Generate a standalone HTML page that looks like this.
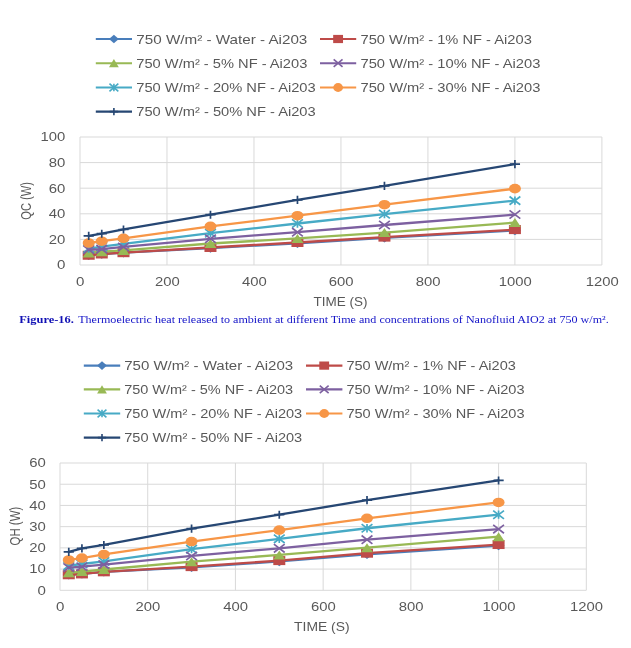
<!DOCTYPE html>
<html lang="en">
<head>
<meta charset="utf-8">
<title>Figure 16</title>
<style>
html,body{margin:0;padding:0;background:#fff;}
body{width:631px;height:648px;overflow:hidden;}
svg{display:block;font-family:"Liberation Sans", "DejaVu Sans", sans-serif;}
</style>
</head>
<body>
<svg width="631" height="648" viewBox="0 0 631 648">
<defs><filter id="soft" filterUnits="userSpaceOnUse" x="0" y="0" width="631" height="648"><feGaussianBlur stdDeviation="0.45"/></filter></defs>
<rect width="631" height="648" fill="#ffffff"/>
<g filter="url(#soft)">
<line x1="95.8" y1="39.0" x2="132.0" y2="39.0" stroke="#4a7ebb" stroke-width="2.1"/>
<polygon points="108.98,39.00 113.90,34.70 118.82,39.00 113.90,43.30" fill="#4a7ebb"/>
<text x="136.3" y="43.8" font-size="12.2" text-anchor="start" fill="#595959" textLength="171.0" lengthAdjust="spacingAndGlyphs">750 W/m² - Water - Ai203</text>
<line x1="95.8" y1="63.2" x2="132.0" y2="63.2" stroke="#98b954" stroke-width="2.1"/>
<polygon points="108.98,67.30 113.90,59.10 118.82,67.30" fill="#98b954"/>
<text x="136.3" y="68.0" font-size="12.2" text-anchor="start" fill="#595959" textLength="171.0" lengthAdjust="spacingAndGlyphs">750 W/m² - 5% NF - Ai203</text>
<line x1="95.8" y1="87.5" x2="132.0" y2="87.5" stroke="#46aac5" stroke-width="2.1"/>
<path d="M109.47 83.73L118.33 91.27M109.47 91.27L118.33 83.73M113.90 83.73L113.90 91.27" stroke="#46aac5" stroke-width="1.6" fill="none"/>
<text x="136.3" y="92.3" font-size="12.2" text-anchor="start" fill="#595959" textLength="179.4" lengthAdjust="spacingAndGlyphs">750 W/m² - 20% NF - Ai203</text>
<line x1="95.8" y1="111.6" x2="132.0" y2="111.6" stroke="#264673" stroke-width="2.1"/>
<path d="M109.72 111.60L118.08 111.60M113.90 107.91L113.90 115.29" stroke="#264673" stroke-width="1.6" fill="none"/>
<text x="136.3" y="116.4" font-size="12.2" text-anchor="start" fill="#595959" textLength="179.4" lengthAdjust="spacingAndGlyphs">750 W/m² - 50% NF - Ai203</text>
<line x1="320.0" y1="39.0" x2="356.2" y2="39.0" stroke="#be4b48" stroke-width="2.1"/>
<rect x="333.18" y="34.90" width="9.84" height="8.20" fill="#be4b48"/>
<text x="360.5" y="43.8" font-size="12.2" text-anchor="start" fill="#595959" textLength="171.3" lengthAdjust="spacingAndGlyphs">750 W/m² - 1% NF - Ai203</text>
<line x1="320.0" y1="63.2" x2="356.2" y2="63.2" stroke="#7d60a0" stroke-width="2.1"/>
<path d="M333.67 59.43L342.53 66.97M333.67 66.97L342.53 59.43" stroke="#7d60a0" stroke-width="1.6" fill="none"/>
<text x="360.5" y="68.0" font-size="12.2" text-anchor="start" fill="#595959" textLength="179.9" lengthAdjust="spacingAndGlyphs">750 W/m² - 10% NF - Ai203</text>
<line x1="320.0" y1="87.5" x2="356.2" y2="87.5" stroke="#f79646" stroke-width="2.1"/>
<ellipse cx="338.10" cy="87.50" rx="4.92" ry="4.40" fill="#f79646"/>
<text x="360.5" y="92.3" font-size="12.2" text-anchor="start" fill="#595959" textLength="179.9" lengthAdjust="spacingAndGlyphs">750 W/m² - 30% NF - Ai203</text>
<line x1="80.00" y1="265.00" x2="601.90" y2="265.00" stroke="#d9d9d9" stroke-width="1"/>
<text x="65.3" y="269.4" font-size="12.2" text-anchor="end" fill="#595959" textLength="8.4" lengthAdjust="spacingAndGlyphs">0</text>
<line x1="80.00" y1="239.40" x2="601.90" y2="239.40" stroke="#d9d9d9" stroke-width="1"/>
<text x="65.3" y="243.8" font-size="12.2" text-anchor="end" fill="#595959" textLength="16.6" lengthAdjust="spacingAndGlyphs">20</text>
<line x1="80.00" y1="213.80" x2="601.90" y2="213.80" stroke="#d9d9d9" stroke-width="1"/>
<text x="65.3" y="218.2" font-size="12.2" text-anchor="end" fill="#595959" textLength="16.6" lengthAdjust="spacingAndGlyphs">40</text>
<line x1="80.00" y1="188.20" x2="601.90" y2="188.20" stroke="#d9d9d9" stroke-width="1"/>
<text x="65.3" y="192.6" font-size="12.2" text-anchor="end" fill="#595959" textLength="16.6" lengthAdjust="spacingAndGlyphs">60</text>
<line x1="80.00" y1="162.60" x2="601.90" y2="162.60" stroke="#d9d9d9" stroke-width="1"/>
<text x="65.3" y="167.0" font-size="12.2" text-anchor="end" fill="#595959" textLength="16.6" lengthAdjust="spacingAndGlyphs">80</text>
<line x1="80.00" y1="137.00" x2="601.90" y2="137.00" stroke="#d9d9d9" stroke-width="1"/>
<text x="65.3" y="141.4" font-size="12.2" text-anchor="end" fill="#595959" textLength="24.8" lengthAdjust="spacingAndGlyphs">100</text>
<line x1="80.00" y1="137.00" x2="80.00" y2="265.00" stroke="#d9d9d9" stroke-width="1"/>
<text x="80.3" y="286.2" font-size="12.2" text-anchor="middle" fill="#595959" textLength="8.4" lengthAdjust="spacingAndGlyphs">0</text>
<line x1="166.98" y1="137.00" x2="166.98" y2="265.00" stroke="#d9d9d9" stroke-width="1"/>
<text x="167.3" y="286.2" font-size="12.2" text-anchor="middle" fill="#595959" textLength="24.8" lengthAdjust="spacingAndGlyphs">200</text>
<line x1="253.97" y1="137.00" x2="253.97" y2="265.00" stroke="#d9d9d9" stroke-width="1"/>
<text x="254.3" y="286.2" font-size="12.2" text-anchor="middle" fill="#595959" textLength="24.8" lengthAdjust="spacingAndGlyphs">400</text>
<line x1="340.95" y1="137.00" x2="340.95" y2="265.00" stroke="#d9d9d9" stroke-width="1"/>
<text x="341.2" y="286.2" font-size="12.2" text-anchor="middle" fill="#595959" textLength="24.8" lengthAdjust="spacingAndGlyphs">600</text>
<line x1="427.93" y1="137.00" x2="427.93" y2="265.00" stroke="#d9d9d9" stroke-width="1"/>
<text x="428.2" y="286.2" font-size="12.2" text-anchor="middle" fill="#595959" textLength="24.8" lengthAdjust="spacingAndGlyphs">800</text>
<line x1="514.92" y1="137.00" x2="514.92" y2="265.00" stroke="#d9d9d9" stroke-width="1"/>
<text x="515.2" y="286.2" font-size="12.2" text-anchor="middle" fill="#595959" textLength="33.0" lengthAdjust="spacingAndGlyphs">1000</text>
<line x1="601.90" y1="137.00" x2="601.90" y2="265.00" stroke="#d9d9d9" stroke-width="1"/>
<text x="602.2" y="286.2" font-size="12.2" text-anchor="middle" fill="#595959" textLength="33.0" lengthAdjust="spacingAndGlyphs">1200</text>
<text x="340.5" y="305.6" font-size="12.2" text-anchor="middle" fill="#595959" textLength="54.0" lengthAdjust="spacingAndGlyphs">TIME (S)</text>
<text transform="translate(30.5,200.9) rotate(-90)" font-size="15" text-anchor="middle" fill="#595959" textLength="37.8" lengthAdjust="spacingAndGlyphs">QC (W)</text>
<polyline points="88.70,255.26 101.75,253.98 123.49,252.70 210.47,248.12 297.46,243.27 384.44,237.90 514.92,230.50" fill="none" stroke="#4a7ebb" stroke-width="2.3" stroke-linejoin="round" stroke-linecap="round"/>
<polygon points="82.70,255.26 88.70,250.56 94.70,255.26 88.70,259.96" fill="#4a7ebb"/>
<polygon points="95.75,253.98 101.75,249.28 107.75,253.98 101.75,258.68" fill="#4a7ebb"/>
<polygon points="117.49,252.70 123.49,248.00 129.49,252.70 123.49,257.40" fill="#4a7ebb"/>
<polygon points="204.47,248.12 210.47,243.42 216.47,248.12 210.47,252.82" fill="#4a7ebb"/>
<polygon points="291.46,243.27 297.46,238.57 303.46,243.27 297.46,247.97" fill="#4a7ebb"/>
<polygon points="378.44,237.90 384.44,233.20 390.44,237.90 384.44,242.60" fill="#4a7ebb"/>
<polygon points="508.92,230.50 514.92,225.80 520.92,230.50 514.92,235.20" fill="#4a7ebb"/>
<polyline points="88.70,255.26 101.75,253.98 123.49,252.70 210.47,247.48 297.46,242.50 384.44,237.13 514.92,229.61" fill="none" stroke="#be4b48" stroke-width="2.3" stroke-linejoin="round" stroke-linecap="round"/>
<rect x="82.70" y="250.76" width="12.00" height="9.00" fill="#be4b48"/>
<rect x="95.75" y="249.48" width="12.00" height="9.00" fill="#be4b48"/>
<rect x="117.49" y="248.20" width="12.00" height="9.00" fill="#be4b48"/>
<rect x="204.47" y="242.98" width="12.00" height="9.00" fill="#be4b48"/>
<rect x="291.46" y="238.00" width="12.00" height="9.00" fill="#be4b48"/>
<rect x="378.44" y="232.63" width="12.00" height="9.00" fill="#be4b48"/>
<rect x="508.92" y="225.11" width="12.00" height="9.00" fill="#be4b48"/>
<polyline points="88.70,252.89 101.75,251.69 123.49,250.41 210.47,243.52 297.46,238.41 384.44,232.54 514.92,222.59" fill="none" stroke="#98b954" stroke-width="2.3" stroke-linejoin="round" stroke-linecap="round"/>
<polygon points="82.70,257.39 88.70,248.39 94.70,257.39" fill="#98b954"/>
<polygon points="95.75,256.19 101.75,247.19 107.75,256.19" fill="#98b954"/>
<polygon points="117.49,254.91 123.49,245.91 129.49,254.91" fill="#98b954"/>
<polygon points="204.47,248.02 210.47,239.02 216.47,248.02" fill="#98b954"/>
<polygon points="291.46,242.91 297.46,233.91 303.46,242.91" fill="#98b954"/>
<polygon points="378.44,237.04 384.44,228.04 390.44,237.04" fill="#98b954"/>
<polygon points="508.92,227.09 514.92,218.09 520.92,227.09" fill="#98b954"/>
<polyline points="88.70,248.63 101.75,246.58 123.49,243.78 210.47,233.18 297.46,223.49 384.44,214.17 514.92,200.64" fill="none" stroke="#46aac5" stroke-width="2.3" stroke-linejoin="round" stroke-linecap="round"/>
<path d="M83.30 244.49L94.10 252.77M83.30 252.77L94.10 244.49M88.70 244.49L88.70 252.77" stroke="#46aac5" stroke-width="1.7" fill="none"/>
<path d="M96.35 242.44L107.15 250.72M96.35 250.72L107.15 242.44M101.75 242.44L101.75 250.72" stroke="#46aac5" stroke-width="1.7" fill="none"/>
<path d="M118.09 239.64L128.89 247.92M118.09 247.92L128.89 239.64M123.49 239.64L123.49 247.92" stroke="#46aac5" stroke-width="1.7" fill="none"/>
<path d="M205.07 229.04L215.88 237.32M205.07 237.32L215.88 229.04M210.47 229.04L210.47 237.32" stroke="#46aac5" stroke-width="1.7" fill="none"/>
<path d="M292.06 219.35L302.86 227.63M292.06 227.63L302.86 219.35M297.46 219.35L297.46 227.63" stroke="#46aac5" stroke-width="1.7" fill="none"/>
<path d="M379.04 210.03L389.84 218.31M379.04 218.31L389.84 210.03M384.44 210.03L384.44 218.31" stroke="#46aac5" stroke-width="1.7" fill="none"/>
<path d="M509.52 196.50L520.32 204.78M509.52 204.78L520.32 196.50M514.92 196.50L514.92 204.78" stroke="#46aac5" stroke-width="1.7" fill="none"/>
<polyline points="88.70,249.77 101.75,249.13 123.49,246.96 210.47,238.80 297.46,232.17 384.44,225.01 514.92,214.56" fill="none" stroke="#7d60a0" stroke-width="2.3" stroke-linejoin="round" stroke-linecap="round"/>
<path d="M83.30 245.63L94.10 253.91M83.30 253.91L94.10 245.63" stroke="#7d60a0" stroke-width="1.7" fill="none"/>
<path d="M96.35 244.99L107.15 253.27M96.35 253.27L107.15 244.99" stroke="#7d60a0" stroke-width="1.7" fill="none"/>
<path d="M118.09 242.82L128.89 251.10M118.09 251.10L128.89 242.82" stroke="#7d60a0" stroke-width="1.7" fill="none"/>
<path d="M205.07 234.66L215.88 242.94M205.07 242.94L215.88 234.66" stroke="#7d60a0" stroke-width="1.7" fill="none"/>
<path d="M292.06 228.03L302.86 236.31M292.06 236.31L302.86 228.03" stroke="#7d60a0" stroke-width="1.7" fill="none"/>
<path d="M379.04 220.87L389.84 229.15M379.04 229.15L389.84 220.87" stroke="#7d60a0" stroke-width="1.7" fill="none"/>
<path d="M509.52 210.42L520.32 218.70M509.52 218.70L520.32 210.42" stroke="#7d60a0" stroke-width="1.7" fill="none"/>
<polyline points="88.70,243.01 101.75,241.22 123.49,238.29 210.47,226.42 297.46,215.71 384.44,204.72 514.92,188.65" fill="none" stroke="#f79646" stroke-width="2.3" stroke-linejoin="round" stroke-linecap="round"/>
<ellipse cx="88.70" cy="243.01" rx="6.00" ry="4.80" fill="#f79646"/>
<ellipse cx="101.75" cy="241.22" rx="6.00" ry="4.80" fill="#f79646"/>
<ellipse cx="123.49" cy="238.29" rx="6.00" ry="4.80" fill="#f79646"/>
<ellipse cx="210.47" cy="226.42" rx="6.00" ry="4.80" fill="#f79646"/>
<ellipse cx="297.46" cy="215.71" rx="6.00" ry="4.80" fill="#f79646"/>
<ellipse cx="384.44" cy="204.72" rx="6.00" ry="4.80" fill="#f79646"/>
<ellipse cx="514.92" cy="188.65" rx="6.00" ry="4.80" fill="#f79646"/>
<polyline points="88.70,235.87 101.75,233.69 123.49,229.48 210.47,214.68 297.46,199.87 384.44,185.84 514.92,164.15" fill="none" stroke="#264673" stroke-width="2.3" stroke-linejoin="round" stroke-linecap="round"/>
<path d="M83.60 235.87L93.80 235.87M88.70 231.82L88.70 239.92" stroke="#264673" stroke-width="1.7" fill="none"/>
<path d="M96.65 233.69L106.85 233.69M101.75 229.64L101.75 237.74" stroke="#264673" stroke-width="1.7" fill="none"/>
<path d="M118.39 229.48L128.59 229.48M123.49 225.43L123.49 233.53" stroke="#264673" stroke-width="1.7" fill="none"/>
<path d="M205.38 214.68L215.57 214.68M210.47 210.63L210.47 218.73" stroke="#264673" stroke-width="1.7" fill="none"/>
<path d="M292.36 199.87L302.56 199.87M297.46 195.82L297.46 203.92" stroke="#264673" stroke-width="1.7" fill="none"/>
<path d="M379.34 185.84L389.54 185.84M384.44 181.79L384.44 189.89" stroke="#264673" stroke-width="1.7" fill="none"/>
<path d="M509.82 164.15L520.02 164.15M514.92 160.10L514.92 168.20" stroke="#264673" stroke-width="1.7" fill="none"/>
<line x1="83.8" y1="365.6" x2="120.2" y2="365.6" stroke="#4a7ebb" stroke-width="2.1"/>
<polygon points="97.08,365.60 102.00,361.30 106.92,365.60 102.00,369.90" fill="#4a7ebb"/>
<text x="124.2" y="370.4" font-size="12.0" text-anchor="start" fill="#595959" textLength="169.0" lengthAdjust="spacingAndGlyphs">750 W/m² - Water - Ai203</text>
<line x1="83.8" y1="389.4" x2="120.2" y2="389.4" stroke="#98b954" stroke-width="2.1"/>
<polygon points="97.08,393.50 102.00,385.30 106.92,393.50" fill="#98b954"/>
<text x="124.2" y="394.2" font-size="12.0" text-anchor="start" fill="#595959" textLength="169.0" lengthAdjust="spacingAndGlyphs">750 W/m² - 5% NF - Ai203</text>
<line x1="83.8" y1="413.5" x2="120.2" y2="413.5" stroke="#46aac5" stroke-width="2.1"/>
<path d="M97.57 409.73L106.43 417.27M97.57 417.27L106.43 409.73M102.00 409.73L102.00 417.27" stroke="#46aac5" stroke-width="1.6" fill="none"/>
<text x="124.2" y="418.3" font-size="12.0" text-anchor="start" fill="#595959" textLength="178.0" lengthAdjust="spacingAndGlyphs">750 W/m² - 20% NF - Ai203</text>
<line x1="83.8" y1="437.6" x2="120.2" y2="437.6" stroke="#264673" stroke-width="2.1"/>
<path d="M97.82 437.60L106.18 437.60M102.00 433.91L102.00 441.29" stroke="#264673" stroke-width="1.6" fill="none"/>
<text x="124.2" y="442.4" font-size="12.0" text-anchor="start" fill="#595959" textLength="178.0" lengthAdjust="spacingAndGlyphs">750 W/m² - 50% NF - Ai203</text>
<line x1="306.0" y1="365.6" x2="342.4" y2="365.6" stroke="#be4b48" stroke-width="2.1"/>
<rect x="319.28" y="361.50" width="9.84" height="8.20" fill="#be4b48"/>
<text x="346.4" y="370.4" font-size="12.0" text-anchor="start" fill="#595959" textLength="169.4" lengthAdjust="spacingAndGlyphs">750 W/m² - 1% NF - Ai203</text>
<line x1="306.0" y1="389.4" x2="342.4" y2="389.4" stroke="#7d60a0" stroke-width="2.1"/>
<path d="M319.77 385.63L328.63 393.17M319.77 393.17L328.63 385.63" stroke="#7d60a0" stroke-width="1.6" fill="none"/>
<text x="346.4" y="394.2" font-size="12.0" text-anchor="start" fill="#595959" textLength="178.1" lengthAdjust="spacingAndGlyphs">750 W/m² - 10% NF - Ai203</text>
<line x1="306.0" y1="413.5" x2="342.4" y2="413.5" stroke="#f79646" stroke-width="2.1"/>
<ellipse cx="324.20" cy="413.50" rx="4.92" ry="4.40" fill="#f79646"/>
<text x="346.4" y="418.3" font-size="12.0" text-anchor="start" fill="#595959" textLength="178.1" lengthAdjust="spacingAndGlyphs">750 W/m² - 30% NF - Ai203</text>
<line x1="60.00" y1="590.30" x2="586.30" y2="590.30" stroke="#d9d9d9" stroke-width="1"/>
<text x="45.9" y="594.6" font-size="12.0" text-anchor="end" fill="#595959" textLength="8.4" lengthAdjust="spacingAndGlyphs">0</text>
<line x1="60.00" y1="569.08" x2="586.30" y2="569.08" stroke="#d9d9d9" stroke-width="1"/>
<text x="45.9" y="573.4" font-size="12.0" text-anchor="end" fill="#595959" textLength="16.6" lengthAdjust="spacingAndGlyphs">10</text>
<line x1="60.00" y1="547.87" x2="586.30" y2="547.87" stroke="#d9d9d9" stroke-width="1"/>
<text x="45.9" y="552.2" font-size="12.0" text-anchor="end" fill="#595959" textLength="16.6" lengthAdjust="spacingAndGlyphs">20</text>
<line x1="60.00" y1="526.65" x2="586.30" y2="526.65" stroke="#d9d9d9" stroke-width="1"/>
<text x="45.9" y="531.0" font-size="12.0" text-anchor="end" fill="#595959" textLength="16.6" lengthAdjust="spacingAndGlyphs">30</text>
<line x1="60.00" y1="505.43" x2="586.30" y2="505.43" stroke="#d9d9d9" stroke-width="1"/>
<text x="45.9" y="509.8" font-size="12.0" text-anchor="end" fill="#595959" textLength="16.6" lengthAdjust="spacingAndGlyphs">40</text>
<line x1="60.00" y1="484.22" x2="586.30" y2="484.22" stroke="#d9d9d9" stroke-width="1"/>
<text x="45.9" y="488.5" font-size="12.0" text-anchor="end" fill="#595959" textLength="16.6" lengthAdjust="spacingAndGlyphs">50</text>
<line x1="60.00" y1="463.00" x2="586.30" y2="463.00" stroke="#d9d9d9" stroke-width="1"/>
<text x="45.9" y="467.3" font-size="12.0" text-anchor="end" fill="#595959" textLength="16.6" lengthAdjust="spacingAndGlyphs">60</text>
<line x1="60.00" y1="463.00" x2="60.00" y2="590.30" stroke="#d9d9d9" stroke-width="1"/>
<text x="60.3" y="610.8" font-size="12.0" text-anchor="middle" fill="#595959" textLength="8.4" lengthAdjust="spacingAndGlyphs">0</text>
<line x1="147.72" y1="463.00" x2="147.72" y2="590.30" stroke="#d9d9d9" stroke-width="1"/>
<text x="148.0" y="610.8" font-size="12.0" text-anchor="middle" fill="#595959" textLength="24.8" lengthAdjust="spacingAndGlyphs">200</text>
<line x1="235.43" y1="463.00" x2="235.43" y2="590.30" stroke="#d9d9d9" stroke-width="1"/>
<text x="235.7" y="610.8" font-size="12.0" text-anchor="middle" fill="#595959" textLength="24.8" lengthAdjust="spacingAndGlyphs">400</text>
<line x1="323.15" y1="463.00" x2="323.15" y2="590.30" stroke="#d9d9d9" stroke-width="1"/>
<text x="323.4" y="610.8" font-size="12.0" text-anchor="middle" fill="#595959" textLength="24.8" lengthAdjust="spacingAndGlyphs">600</text>
<line x1="410.87" y1="463.00" x2="410.87" y2="590.30" stroke="#d9d9d9" stroke-width="1"/>
<text x="411.2" y="610.8" font-size="12.0" text-anchor="middle" fill="#595959" textLength="24.8" lengthAdjust="spacingAndGlyphs">800</text>
<line x1="498.58" y1="463.00" x2="498.58" y2="590.30" stroke="#d9d9d9" stroke-width="1"/>
<text x="498.9" y="610.8" font-size="12.0" text-anchor="middle" fill="#595959" textLength="33.0" lengthAdjust="spacingAndGlyphs">1000</text>
<line x1="586.30" y1="463.00" x2="586.30" y2="590.30" stroke="#d9d9d9" stroke-width="1"/>
<text x="586.6" y="610.8" font-size="12.0" text-anchor="middle" fill="#595959" textLength="33.0" lengthAdjust="spacingAndGlyphs">1200</text>
<text x="321.8" y="631.0" font-size="12.0" text-anchor="middle" fill="#595959" textLength="55.5" lengthAdjust="spacingAndGlyphs">TIME (S)</text>
<text transform="translate(19.5,526.1) rotate(-90)" font-size="15" text-anchor="middle" fill="#595959" textLength="38.8" lengthAdjust="spacingAndGlyphs">QH (W)</text>
<polyline points="68.77,574.77 81.93,573.92 103.86,571.82 191.57,567.36 279.29,561.45 367.01,554.25 498.58,545.58" fill="none" stroke="#4a7ebb" stroke-width="2.3" stroke-linejoin="round" stroke-linecap="round"/>
<polygon points="62.77,574.77 68.77,570.07 74.77,574.77 68.77,579.47" fill="#4a7ebb"/>
<polygon points="75.93,573.92 81.93,569.22 87.93,573.92 81.93,578.62" fill="#4a7ebb"/>
<polygon points="97.86,571.82 103.86,567.12 109.86,571.82 103.86,576.52" fill="#4a7ebb"/>
<polygon points="185.57,567.36 191.57,562.66 197.57,567.36 191.57,572.06" fill="#4a7ebb"/>
<polygon points="273.29,561.45 279.29,556.75 285.29,561.45 279.29,566.15" fill="#4a7ebb"/>
<polygon points="361.01,554.25 367.01,549.55 373.01,554.25 367.01,558.95" fill="#4a7ebb"/>
<polygon points="492.58,545.58 498.58,540.88 504.58,545.58 498.58,550.28" fill="#4a7ebb"/>
<polyline points="68.77,574.77 81.93,573.92 103.86,571.82 191.57,566.62 279.29,560.60 367.01,553.19 498.58,544.54" fill="none" stroke="#be4b48" stroke-width="2.3" stroke-linejoin="round" stroke-linecap="round"/>
<rect x="62.77" y="570.27" width="12.00" height="9.00" fill="#be4b48"/>
<rect x="75.93" y="569.42" width="12.00" height="9.00" fill="#be4b48"/>
<rect x="97.86" y="567.32" width="12.00" height="9.00" fill="#be4b48"/>
<rect x="185.57" y="562.12" width="12.00" height="9.00" fill="#be4b48"/>
<rect x="273.29" y="556.10" width="12.00" height="9.00" fill="#be4b48"/>
<rect x="361.01" y="548.69" width="12.00" height="9.00" fill="#be4b48"/>
<rect x="492.58" y="540.04" width="12.00" height="9.00" fill="#be4b48"/>
<polyline points="68.77,572.86 81.93,571.61 103.86,569.49 191.57,561.66 279.29,554.89 367.01,547.70 498.58,536.71" fill="none" stroke="#98b954" stroke-width="2.3" stroke-linejoin="round" stroke-linecap="round"/>
<polygon points="62.77,577.36 68.77,568.36 74.77,577.36" fill="#98b954"/>
<polygon points="75.93,576.11 81.93,567.11 87.93,576.11" fill="#98b954"/>
<polygon points="97.86,573.99 103.86,564.99 109.86,573.99" fill="#98b954"/>
<polygon points="185.57,566.16 191.57,557.16 197.57,566.16" fill="#98b954"/>
<polygon points="273.29,559.39 279.29,550.39 285.29,559.39" fill="#98b954"/>
<polygon points="361.01,552.20 367.01,543.20 373.01,552.20" fill="#98b954"/>
<polygon points="492.58,541.21 498.58,532.21 504.58,541.21" fill="#98b954"/>
<polyline points="68.77,565.67 81.93,563.99 103.86,561.45 191.57,549.18 279.29,538.83 367.01,528.24 498.58,514.71" fill="none" stroke="#46aac5" stroke-width="2.3" stroke-linejoin="round" stroke-linecap="round"/>
<path d="M63.37 561.53L74.17 569.81M63.37 569.81L74.17 561.53M68.77 561.53L68.77 569.81" stroke="#46aac5" stroke-width="1.7" fill="none"/>
<path d="M76.53 559.85L87.33 568.13M76.53 568.13L87.33 559.85M81.93 559.85L81.93 568.13" stroke="#46aac5" stroke-width="1.7" fill="none"/>
<path d="M98.46 557.31L109.26 565.59M98.46 565.59L109.26 557.31M103.86 557.31L103.86 565.59" stroke="#46aac5" stroke-width="1.7" fill="none"/>
<path d="M186.17 545.04L196.97 553.32M186.17 553.32L196.97 545.04M191.57 545.04L191.57 553.32" stroke="#46aac5" stroke-width="1.7" fill="none"/>
<path d="M273.89 534.69L284.69 542.97M273.89 542.97L284.69 534.69M279.29 534.69L279.29 542.97" stroke="#46aac5" stroke-width="1.7" fill="none"/>
<path d="M361.61 524.10L372.41 532.38M361.61 532.38L372.41 524.10M367.01 524.10L367.01 532.38" stroke="#46aac5" stroke-width="1.7" fill="none"/>
<path d="M493.18 510.57L503.98 518.85M493.18 518.85L503.98 510.57M498.58 510.57L498.58 518.85" stroke="#46aac5" stroke-width="1.7" fill="none"/>
<polyline points="68.77,567.58 81.93,566.73 103.86,564.63 191.57,555.95 279.29,548.33 367.01,539.66 498.58,529.09" fill="none" stroke="#7d60a0" stroke-width="2.3" stroke-linejoin="round" stroke-linecap="round"/>
<path d="M63.37 563.44L74.17 571.72M63.37 571.72L74.17 563.44" stroke="#7d60a0" stroke-width="1.7" fill="none"/>
<path d="M76.53 562.59L87.33 570.87M76.53 570.87L87.33 562.59" stroke="#7d60a0" stroke-width="1.7" fill="none"/>
<path d="M98.46 560.49L109.26 568.77M98.46 568.77L109.26 560.49" stroke="#7d60a0" stroke-width="1.7" fill="none"/>
<path d="M186.17 551.81L196.97 560.09M186.17 560.09L196.97 551.81" stroke="#7d60a0" stroke-width="1.7" fill="none"/>
<path d="M273.89 544.19L284.69 552.47M273.89 552.47L284.69 544.19" stroke="#7d60a0" stroke-width="1.7" fill="none"/>
<path d="M361.61 535.52L372.41 543.80M361.61 543.80L372.41 535.52" stroke="#7d60a0" stroke-width="1.7" fill="none"/>
<path d="M493.18 524.95L503.98 533.23M493.18 533.23L503.98 524.95" stroke="#7d60a0" stroke-width="1.7" fill="none"/>
<polyline points="68.77,559.96 81.93,558.07 103.86,554.47 191.57,541.57 279.29,530.15 367.01,518.31 498.58,502.44" fill="none" stroke="#f79646" stroke-width="2.3" stroke-linejoin="round" stroke-linecap="round"/>
<ellipse cx="68.77" cy="559.96" rx="6.00" ry="4.80" fill="#f79646"/>
<ellipse cx="81.93" cy="558.07" rx="6.00" ry="4.80" fill="#f79646"/>
<ellipse cx="103.86" cy="554.47" rx="6.00" ry="4.80" fill="#f79646"/>
<ellipse cx="191.57" cy="541.57" rx="6.00" ry="4.80" fill="#f79646"/>
<ellipse cx="279.29" cy="530.15" rx="6.00" ry="4.80" fill="#f79646"/>
<ellipse cx="367.01" cy="518.31" rx="6.00" ry="4.80" fill="#f79646"/>
<ellipse cx="498.58" cy="502.44" rx="6.00" ry="4.80" fill="#f79646"/>
<polyline points="68.77,551.83 81.93,548.33 103.86,544.96 191.57,528.67 279.29,514.71 367.01,500.11 498.58,480.44" fill="none" stroke="#264673" stroke-width="2.3" stroke-linejoin="round" stroke-linecap="round"/>
<path d="M63.67 551.83L73.87 551.83M68.77 547.78L68.77 555.88" stroke="#264673" stroke-width="1.7" fill="none"/>
<path d="M76.83 548.33L87.03 548.33M81.93 544.28L81.93 552.38" stroke="#264673" stroke-width="1.7" fill="none"/>
<path d="M98.76 544.96L108.96 544.96M103.86 540.91L103.86 549.01" stroke="#264673" stroke-width="1.7" fill="none"/>
<path d="M186.47 528.67L196.67 528.67M191.57 524.62L191.57 532.72" stroke="#264673" stroke-width="1.7" fill="none"/>
<path d="M274.19 514.71L284.39 514.71M279.29 510.66L279.29 518.76" stroke="#264673" stroke-width="1.7" fill="none"/>
<path d="M361.91 500.11L372.11 500.11M367.01 496.06L367.01 504.16" stroke="#264673" stroke-width="1.7" fill="none"/>
<path d="M493.48 480.44L503.68 480.44M498.58 476.39L498.58 484.49" stroke="#264673" stroke-width="1.7" fill="none"/>
</g>
<text x="19.3" y="323.2" font-family='"Liberation Serif", "DejaVu Serif", serif' font-size="10.6" font-weight="bold" fill="#1010b4" textLength="54.5" lengthAdjust="spacingAndGlyphs">Figure-16.</text>
<text x="78.2" y="323.2" font-family='"Liberation Serif", "DejaVu Serif", serif' font-size="10.6" fill="#1414c8" textLength="530.5" lengthAdjust="spacingAndGlyphs">Thermoelectric heat released to ambient at different Time and concentrations of Nanofluid AIO2 at 750 w/m².</text>
</svg>
</body>
</html>
